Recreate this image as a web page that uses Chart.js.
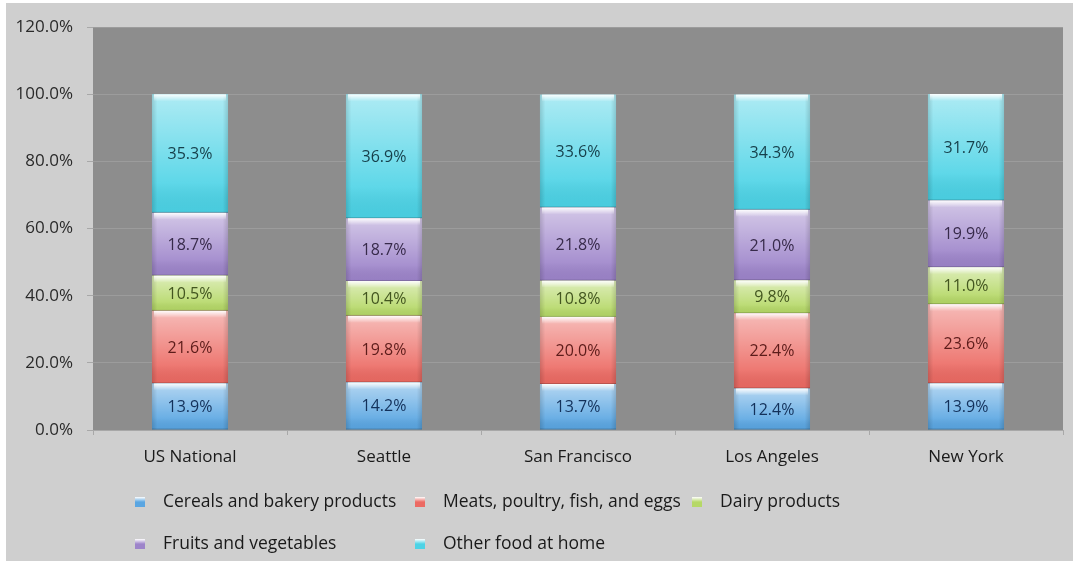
<!DOCTYPE html>
<html>
<head>
<meta charset="utf-8">
<title>Food at home spending by city</title>
<script src="https://cdn.jsdelivr.net/npm/chart.js@4.4.1/dist/chart.umd.min.js"></script>
<style>
  html, body { margin: 0; padding: 0; background: #ffffff; }
  #frame {
    position: absolute;
    left: 6px; top: 3px;
    width: 1067px; height: 558px;
    background: #cfcfcf;
  }
</style>
</head>
<body>
<div id="frame"><canvas id="foodChart" width="1067" height="558"></canvas></div>
<script>
const categories = ['US National', 'Seattle', 'San Francisco', 'Los Angeles', 'New York'];
const seriesNames = ['Cereals and bakery products', 'Meats, poultry, fish, and eggs', 'Dairy products',
                     'Fruits and vegetables', 'Other food at home'];
const cereals = [13.9, 14.2, 13.7, 12.4, 13.9];
const meats   = [21.6, 19.8, 20.0, 22.4, 23.6];
const dairy   = [10.5, 10.4, 10.8, 9.8, 11.0];
const fruits  = [18.7, 18.7, 21.8, 21.0, 19.9];
const other   = [35.3, 36.9, 33.6, 34.3, 31.7];

const seriesValues = [cereals, meats, dairy, fruits, other];
const fillColors  = ['#5aa6e2', '#ec6a63', '#b5d867', '#9d84ca', '#4cd3e6'];
const labelColors = ['#13315a', '#5c1c1a', '#435620', '#372a4a', '#163f4a'];

const FONT = '"Open Sans", "DejaVu Sans", sans-serif';

// dark grey plot area behind the grid
const plotBackground = {
    id: 'plotBackground',
    beforeDraw(chart) {
        const {ctx, chartArea: a} = chart;
        ctx.save();
        ctx.fillStyle = '#8d8d8d';
        ctx.fillRect(a.left, a.top, a.right - a.left, a.bottom - a.top);
        ctx.restore();
    }
};

// glossy bevel on every bar segment, then the value text on top
const bevelAndLabels = {
    id: 'bevelAndLabels',
    afterDatasetsDraw(chart) {
        const ctx = chart.ctx;
        chart.data.datasets.forEach(function (ds, di) {
            const meta = chart.getDatasetMeta(di);
            meta.data.forEach(function (bar, i) {
                const left = bar.x - bar.width / 2;
                const top = Math.min(bar.y, bar.base);
                const h = Math.abs(bar.base - bar.y);
                const w = bar.width;
                ctx.save();

                let g = ctx.createLinearGradient(0, top, 0, top + h);
                g.addColorStop(0, 'rgba(255,255,255,0.55)');
                g.addColorStop(0.75, 'rgba(255,255,255,0.1)');
                g.addColorStop(1, 'rgba(0,0,0,0.03)');
                ctx.fillStyle = g;
                ctx.fillRect(left, top, w, h);

                g = ctx.createLinearGradient(left, 0, left + w, 0);
                g.addColorStop(0, 'rgba(0,0,0,0.14)');
                g.addColorStop(0.07, 'rgba(0,0,0,0)');
                g.addColorStop(0.93, 'rgba(0,0,0,0)');
                g.addColorStop(1, 'rgba(0,0,0,0.14)');
                ctx.fillStyle = g;
                ctx.fillRect(left, top, w, h);

                g = ctx.createLinearGradient(0, top, 0, top + 7);
                g.addColorStop(0, 'rgba(255,255,255,0.95)');
                g.addColorStop(1, 'rgba(255,255,255,0)');
                ctx.fillStyle = g;
                ctx.fillRect(left + 2, top, w - 4, 7);

                ctx.fillStyle = 'rgba(0,0,0,0.18)';
                ctx.fillRect(left, top + h - 1, w, 1);

                ctx.fillStyle = labelColors[di];
                ctx.font = '16px ' + FONT;
                ctx.textAlign = 'center';
                ctx.textBaseline = 'middle';
                ctx.fillText(ds.data[i].toFixed(1) + '%', bar.x, top + h / 2 + 1);
                ctx.restore();
            });
        });
    }
};

// two-row legend laid out in fixed columns under the axis
const gridLegend = {
    id: 'gridLegend',
    afterDraw(chart) {
        const ctx = chart.ctx;
        const cols = [129, 409, 686];
        const rows = [499, 541];
        ctx.save();
        ctx.font = '17.5px ' + FONT;
        ctx.textBaseline = 'middle';
        ctx.textAlign = 'left';
        chart.data.datasets.forEach(function (ds, di) {
            const x = cols[di % 3];
            const y = rows[Math.floor(di / 3)];
            const g = ctx.createLinearGradient(0, y - 5, 0, y + 5);
            g.addColorStop(0, '#ffffff');
            g.addColorStop(0.5, ds.backgroundColor);
            g.addColorStop(1, ds.backgroundColor);
            ctx.fillStyle = g;
            ctx.fillRect(x, y - 5, 10, 10);
            ctx.fillStyle = '#1a1a1a';
            ctx.fillText(ds.label, x + 28, y);
        });
        ctx.restore();
    }
};

new Chart(document.getElementById('foodChart').getContext('2d'), {
    type: 'bar',
    data: {
        labels: categories,
        datasets: seriesNames.map(function (name, i) {
            return {
                label: name,
                data: seriesValues[i],
                backgroundColor: fillColors[i],
                borderWidth: 0,
                categoryPercentage: 1.0,
                barPercentage: 0.392
            };
        })
    },
    options: {
        responsive: false,
        animation: false,
        layout: { padding: { top: 22, right: 10, bottom: 0, left: 0 } },
        plugins: {
            legend: { display: false },
            tooltip: { enabled: false }
        },
        scales: {
            x: {
                stacked: true,
                afterFit(scale) { scale.height = 131; },
                grid: { display: true, drawOnChartArea: false, offset: true, tickLength: 5, tickColor: '#a8a8a8' },
                border: { display: true, color: '#a8a8a8' },
                ticks: { color: '#1a1a1a', font: { family: FONT, size: 17 }, padding: 12 }
            },
            y: {
                stacked: true,
                min: 0,
                max: 120,
                afterFit(scale) { scale.width = 87; },
                grid: { color: '#9c9c9c', tickLength: 6, tickColor: '#a8a8a8' },
                border: { display: false },
                ticks: {
                    stepSize: 20,
                    color: '#2a2a2a',
                    padding: 14,
                    font: { family: FONT, size: 17 },
                    callback: function (v) { return v.toFixed(1) + '%'; }
                }
            }
        }
    },
    plugins: [plotBackground, bevelAndLabels, gridLegend]
});
</script>
</body>
</html>
